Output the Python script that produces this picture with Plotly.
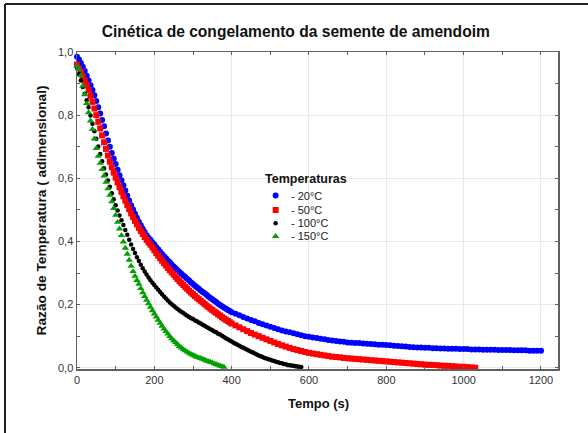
import plotly.graph_objects as go

# ---------------- data ----------------
t_fine = list(range(0, 405, 5))          # 0..400 s every 5 s
t_coarse = list(range(410, 1210, 10))    # 410..1200 s every 10 s

blue_fine = [0.985, 0.976, 0.965, 0.953, 0.94, 0.925, 0.91, 0.895, 0.88, 0.863,
             0.845, 0.825, 0.805, 0.785, 0.765, 0.742, 0.72, 0.70, 0.68, 0.662,
             0.645, 0.627, 0.61, 0.594, 0.578, 0.561, 0.545, 0.53, 0.515, 0.501,
             0.488, 0.475, 0.462, 0.451, 0.44, 0.43, 0.42, 0.412, 0.405, 0.397,
             0.39, 0.382, 0.375, 0.367, 0.36, 0.353, 0.347, 0.34, 0.334, 0.327,
             0.321, 0.315, 0.309, 0.303, 0.298, 0.292, 0.287, 0.281, 0.276, 0.27,
             0.265, 0.26, 0.255, 0.25, 0.245, 0.24, 0.236, 0.231, 0.226, 0.221,
             0.217, 0.212, 0.208, 0.203, 0.199, 0.195, 0.191, 0.187, 0.183, 0.18,
             0.176]
blue_coarse = [0.171, 0.166, 0.161, 0.156, 0.151, 0.147, 0.142, 0.138, 0.134, 0.130,
               0.126, 0.122, 0.118, 0.115, 0.112, 0.109, 0.106, 0.103, 0.100, 0.098,
               0.096, 0.094, 0.092, 0.090, 0.088, 0.086, 0.085, 0.083, 0.082, 0.080,
               0.079, 0.078, 0.078, 0.077, 0.076, 0.075, 0.074, 0.073, 0.073, 0.072,
               0.071, 0.070, 0.069, 0.068, 0.067, 0.066, 0.065, 0.064, 0.064, 0.063,
               0.063, 0.062, 0.062, 0.061, 0.061, 0.060, 0.060, 0.060, 0.059, 0.059,
               0.059, 0.058, 0.058, 0.058, 0.057, 0.057, 0.057, 0.057, 0.056, 0.056,
               0.056, 0.056, 0.055, 0.055, 0.055, 0.055, 0.054, 0.054, 0.054, 0.054]

red_fine = [0.96, 0.948, 0.935, 0.923, 0.91, 0.895, 0.88, 0.861, 0.842, 0.821,
            0.80, 0.779, 0.758, 0.736, 0.714, 0.693, 0.672, 0.653, 0.635, 0.618,
            0.602, 0.587, 0.572, 0.557, 0.543, 0.529, 0.515, 0.502, 0.489, 0.477,
            0.465, 0.454, 0.443, 0.433, 0.424, 0.414, 0.405, 0.397, 0.39, 0.381,
            0.372, 0.363, 0.355, 0.347, 0.339, 0.331, 0.324, 0.316, 0.309, 0.302,
            0.295, 0.288, 0.281, 0.274, 0.268, 0.262, 0.256, 0.25, 0.244, 0.238,
            0.233, 0.227, 0.222, 0.217, 0.212, 0.207, 0.202, 0.197, 0.192, 0.187,
            0.183, 0.178, 0.174, 0.169, 0.165, 0.16, 0.156, 0.152, 0.148, 0.144,
            0.140]
t_red_coarse = list(range(410, 1040, 10))
red_coarse = [0.134, 0.128, 0.122, 0.116, 0.110, 0.105, 0.100, 0.095, 0.090, 0.085,
              0.080, 0.075, 0.071, 0.067, 0.063, 0.059, 0.056, 0.053, 0.050, 0.047,
              0.045, 0.043, 0.041, 0.039, 0.037, 0.035, 0.034, 0.033, 0.031, 0.030,
              0.029, 0.028, 0.027, 0.026, 0.025, 0.024, 0.023, 0.022, 0.021, 0.020,
              0.019, 0.018, 0.017, 0.016, 0.015, 0.014, 0.013, 0.012, 0.011, 0.010,
              0.009, 0.009, 0.008, 0.007, 0.006, 0.006, 0.005, 0.004, 0.003, 0.003,
              0.002, 0.001, 0.000]

t_black = list(range(0, 585, 5))
black_vals = [0.95, 0.93, 0.91, 0.889, 0.868, 0.847, 0.825, 0.799, 0.773, 0.749,
              0.725, 0.701, 0.677, 0.654, 0.632, 0.612, 0.593, 0.573, 0.553, 0.534,
              0.515, 0.498, 0.482, 0.467, 0.452, 0.436, 0.421, 0.405, 0.39, 0.376,
              0.363, 0.35, 0.338, 0.326, 0.315, 0.305, 0.295, 0.286, 0.277, 0.269,
              0.262, 0.254, 0.247, 0.24, 0.233, 0.226, 0.219, 0.213, 0.207, 0.201,
              0.196, 0.191, 0.186, 0.181, 0.177, 0.173, 0.169, 0.165, 0.161, 0.157,
              0.154, 0.15, 0.147, 0.143, 0.14, 0.136, 0.133, 0.129, 0.126, 0.122,
              0.119, 0.115, 0.112, 0.108, 0.105, 0.101, 0.097, 0.093, 0.09, 0.086,
              0.083, 0.079, 0.076, 0.073, 0.07, 0.066, 0.063, 0.06, 0.057, 0.054,
              0.051, 0.048, 0.045, 0.042, 0.039, 0.036, 0.034, 0.031, 0.029, 0.027,
              0.025, 0.023, 0.021, 0.019, 0.017, 0.015, 0.014, 0.012, 0.011, 0.009,
              0.008, 0.007, 0.006, 0.005, 0.004, 0.003, 0.002]

t_green = list(range(0, 385, 5))
green_vals = [0.955, 0.945, 0.925, 0.893, 0.865, 0.837, 0.808, 0.782, 0.755, 0.725,
              0.695, 0.67, 0.648, 0.628, 0.608, 0.588, 0.567, 0.547, 0.526, 0.505,
              0.483, 0.461, 0.44, 0.419, 0.399, 0.379, 0.36, 0.341, 0.322, 0.305,
              0.29, 0.277, 0.265, 0.251, 0.238, 0.226, 0.214, 0.203, 0.192, 0.181,
              0.171, 0.161, 0.151, 0.141, 0.132, 0.123, 0.115, 0.107, 0.099, 0.092,
              0.086, 0.08, 0.074, 0.068, 0.063, 0.058, 0.054, 0.05, 0.046, 0.043,
              0.04, 0.037, 0.034, 0.032, 0.03, 0.027, 0.025, 0.022, 0.02, 0.018,
              0.016, 0.013, 0.011, 0.008, 0.006, 0.004, 0.002]

series_names = ["- 20°C", "- 50°C", "- 100°C", "- 150°C"]
series_colors = ["#0000ff", "#ff0000", "#000000", "#00a000"]
series_symbols = ["circle", "square", "circle", "triangle-up"]
series_sizes = [6, 6, 4.5, 6.5]

x_tickvals = [0, 200, 400, 600, 800, 1000, 1200]
x_ticktext = ["0", "200", "400", "600", "800", "1000", "1200"]
y_tickvals = [0.0, 0.2, 0.4, 0.6, 0.8, 1.0]
y_ticktext = ["0,0", "0,2", "0,4", "0,6", "0,8", "1,0"]

title_text = "Cinética de congelamento da semente de amendoim"
x_title = "Tempo (s)"
y_title = "Razão de Temperatura ( adimensional)"
legend_title = "Temperaturas"

FONT = "Liberation Sans, Arial, sans-serif"

series_t = [t_fine + t_coarse, t_fine + t_red_coarse, t_black, t_green]
series_v = [blue_fine + blue_coarse, red_fine + red_coarse, black_vals, green_vals]

fig = go.Figure()
for t, v, c, s, sz in zip(series_t, series_v, series_colors, series_symbols, series_sizes):
    fig.add_trace(go.Scatter(
        x=t, y=v, mode="markers", cliponaxis=False, showlegend=False,
        marker=dict(color=c, symbol=s, size=sz, line=dict(width=0)),
        hoverinfo="skip",
    ))

# legend symbols on a hidden overlay axis (0..1 of plot area)
leg_x = 0.413
leg_y = [0.547, 0.5016, 0.4596, 0.4186]
for y, c, s, sz in zip(leg_y, series_colors, series_symbols, series_sizes):
    fig.add_trace(go.Scatter(
        x=[leg_x], y=[y], xaxis="x2", yaxis="y2", mode="markers",
        showlegend=False, cliponaxis=False, hoverinfo="skip",
        marker=dict(color=c, symbol=s, size=sz, line=dict(width=0)),
    ))

annotations = [
    dict(text="<b>%s</b>" % legend_title, x=0.3867, y=0.599, xref="paper", yref="paper",
         xanchor="left", yanchor="middle", showarrow=False,
         font=dict(family=FONT, size=12.5, color="#111")),
    dict(text="<b>%s</b>" % x_title, x=0.502, y=-0.11, xref="paper", yref="paper",
         xanchor="center", yanchor="middle", showarrow=False,
         font=dict(family=FONT, size=13, color="#111")),
    dict(text="<b>%s</b>" % y_title, x=-0.073, y=0.5, xref="paper", yref="paper",
         xanchor="center", yanchor="middle", showarrow=False, textangle=-90,
         font=dict(family=FONT, size=13.7, color="#111")),
]
for y, name in zip(leg_y, series_names):
    annotations.append(dict(text=name, x=0.4407, y=y, xref="paper", yref="paper",
                            xanchor="left", yanchor="middle", showarrow=False,
                            font=dict(family=FONT, size=11, color="#222")))

axis_common = dict(
    showline=True, linecolor="#606060", linewidth=1.5, mirror="allticks",
    ticks="inside", ticklen=3, tickcolor="#606060", tickwidth=1,
    showgrid=True, gridcolor="#e9e9e9", gridwidth=1, zeroline=False,
    automargin=False,
    tickfont=dict(family=FONT, size=11, color="#333"),
)

fig.update_layout(
    width=588, height=433,
    margin=dict(l=77, r=30, t=52, b=64),
    paper_bgcolor="white", plot_bgcolor="white",
    title=dict(text="<b>%s</b>" % title_text, x=0.503, xanchor="center",
               y=1 - 32 / 433, yanchor="middle",
               font=dict(family=FONT, size=15.6, color="#111")),
    xaxis=dict(range=[0, 1244], tickvals=x_tickvals, ticktext=x_ticktext,
               minor=dict(dtick=100, ticks="inside", ticklen=3, tickcolor="#606060",
                          showgrid=False),
               **axis_common),
    yaxis=dict(range=[-0.004, 1.0], tickvals=y_tickvals, ticktext=y_ticktext,
               minor=dict(dtick=0.1, ticks="inside", ticklen=3, tickcolor="#606060",
                          showgrid=False),
               **axis_common),
    xaxis2=dict(overlaying="x", range=[0, 1], visible=False, fixedrange=True),
    yaxis2=dict(overlaying="y", range=[0, 1], visible=False, fixedrange=True),
    annotations=annotations,
    shapes=[
        dict(type="line", xref="paper", yref="paper", x0=-0.1497, x1=1.2,
             y0=1.1514, y1=1.1514, line=dict(color="#222", width=2)),
        dict(type="line", xref="paper", yref="paper", x0=-0.1497, x1=-0.1497,
             y0=1.1514, y1=-0.3, line=dict(color="#222", width=2)),
    ],
)

fig.write_html("out.html",
               config={"displayModeBar": False, "staticPlot": True},
               post_script="document.body.style.margin='0';document.body.style.overflow='hidden';")
